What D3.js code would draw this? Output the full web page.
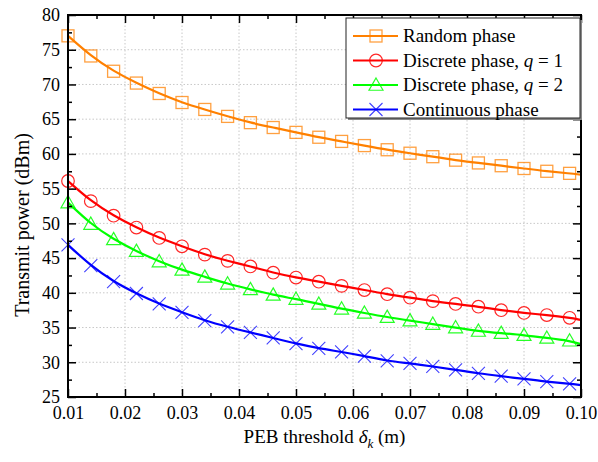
<!DOCTYPE html>
<html><head><meta charset="utf-8">
<script src="https://cdn.jsdelivr.net/npm/d3@7"></script>
<style>
html,body{margin:0;padding:0;background:#fff;}
svg{display:block;font-family:"Liberation Serif","Times New Roman",serif;}
</style></head>
<body><svg id="c" width="598" height="462"></svg>
<script>
// ---- data ----
const markerX = [0.010,0.014,0.018,0.022,0.026,0.030,0.034,0.038,0.042,0.046,0.050,0.054,0.058,0.062,0.066,0.070,0.074,0.078,0.082,0.086,0.090,0.094,0.098];
const endX = 0.10;
const randomPhase = [77.0,74.1,71.9,70.2,68.7,67.4,66.4,65.4,64.5,63.8,63.1,62.4,61.8,61.2,60.6,60.1,59.6,59.1,58.7,58.3,57.9,57.5,57.2];
const randomEnd = 57.0;
const discreteQ1 = [56.1,53.2,51.1,49.4,47.9,46.7,45.5,44.6,43.8,42.9,42.2,41.6,41.0,40.4,39.8,39.3,38.8,38.4,38.0,37.5,37.1,36.8,36.4];
const discreteQ1End = 36.1;
const discreteQ2 = [53.0,49.9,47.7,46.0,44.5,43.3,42.3,41.3,40.5,39.7,39.1,38.4,37.7,37.1,36.5,36.0,35.5,35.0,34.5,34.2,33.9,33.5,33.1];
const discreteQ2End = 32.6;
const continuous = [46.9,43.9,41.6,39.9,38.4,37.2,36.0,35.1,34.3,33.5,32.7,32.0,31.5,30.9,30.2,29.85,29.4,28.9,28.4,28.0,27.6,27.2,26.9];
const continuousEnd = 26.7;
const xTicks = [0.01,0.02,0.03,0.04,0.05,0.06,0.07,0.08,0.09,0.10];
const xMinor = [0.015,0.025,0.035,0.045,0.055,0.065,0.075,0.085,0.095];
const yTicks = [25,30,35,40,45,50,55,60,65,70,75,80];
const yMinor = [27.5,32.5,37.5,42.5,47.5,52.5,57.5,62.5,67.5,72.5,77.5];

const seriesList = [
  {name:"Random phase", vals:randomPhase, end:randomEnd, color:"#FF8000", marker:"square"},
  {name:"Discrete phase, ", q:"1", vals:discreteQ1, end:discreteQ1End, color:"#FF0000", marker:"circle"},
  {name:"Discrete phase, ", q:"2", vals:discreteQ2, end:discreteQ2End, color:"#00FF00", marker:"triangle"},
  {name:"Continuous phase", vals:continuous, end:continuousEnd, color:"#0000FF", marker:"cross"}
];

// ---- layout ----
const FONT = "Liberation Serif, Times New Roman, serif";
const L=68, R=581, T=15, B=397;
const svg = d3.select("#c");
const x = d3.scaleLinear().domain([0.01,0.10]).range([L,R]);
const y = d3.scaleLinear().domain([25,80]).range([B,T]);

// grid
const grid = svg.append("g");
grid.selectAll("line.gx").data(xTicks.slice(1,-1)).join("line")
  .attr("x1",d=>x(d)).attr("x2",d=>x(d)).attr("y1",T).attr("y2",B)
  .attr("stroke","#c8c8c8").attr("stroke-width",1).attr("stroke-dasharray","1.5,2");
grid.selectAll("line.gy").data(yTicks.slice(1,-1)).join("line")
  .attr("x1",L).attr("x2",R).attr("y1",d=>y(d)).attr("y2",d=>y(d))
  .attr("stroke","#c8c8c8").attr("stroke-width",1).attr("stroke-dasharray","1.5,2");

// series
const line = d3.line().x(d=>x(d[0])).y(d=>y(d[1])).curve(d3.curveBasis);
function drawMarker(g, type, cx, cy, color){
  const s = 6;
  if(type==="square"){
    g.append("rect").attr("x",cx-s).attr("y",cy-s).attr("width",2*s).attr("height",2*s)
      .attr("fill","none").attr("stroke",color).attr("stroke-width",1.3).attr("stroke-opacity",0.75);
  } else if(type==="circle"){
    g.append("circle").attr("cx",cx).attr("cy",cy).attr("r",s+0.3)
      .attr("fill","none").attr("stroke",color).attr("stroke-width",1.2).attr("stroke-opacity",0.85);
  } else if(type==="triangle"){
    const h=s+1;
    g.append("path").attr("d",`M${cx},${cy-h} L${cx+h},${cy+h*0.75} L${cx-h},${cy+h*0.75} Z`)
      .attr("fill","none").attr("stroke",color).attr("stroke-width",1.2).attr("stroke-opacity",0.85);
  } else {
    const c=s+0.5;
    g.append("path").attr("d",`M${cx-c},${cy-c} L${cx+c},${cy+c} M${cx-c},${cy+c} L${cx+c},${cy-c}`)
      .attr("fill","none").attr("stroke",color).attr("stroke-width",1.1).attr("stroke-opacity",0.75);
  }
}
const sg = svg.append("g");
seriesList.forEach(s=>{
  const pts = markerX.map((xv,i)=>[xv,s.vals[i]]).concat([[endX,s.end]]);
  sg.append("path").datum(pts).attr("d",line).attr("fill","none")
    .attr("stroke",s.color).attr("stroke-width",2.2);
  const mg = sg.append("g");
  markerX.forEach((xv,i)=>drawMarker(mg,s.marker,x(xv),y(s.vals[i]),s.color));
});

// axes
const axisStyle = g=>{ g.select(".domain").remove(); g.selectAll("line").attr("stroke","#000").attr("stroke-width",1.5); };
function addAxis(axisFn, scale, ticks, size, transform, labels, fmt, pad){
  const a = axisFn(scale).tickValues(ticks).tickSize(size).tickPadding(pad||8);
  if(labels) a.tickFormat(fmt); else a.tickFormat("");
  const g = svg.append("g").attr("transform",transform).call(a).call(axisStyle)
    .attr("font-family",FONT).attr("font-size",18);
  g.selectAll("text").attr("font-size",18).attr("fill","#000").attr("font-family",FONT);
  return g;
}
const fx = d=>d3.format(".2f")(d);
addAxis(d3.axisBottom,x,xTicks,-8,`translate(0,${B})`,true,fx,9);
addAxis(d3.axisBottom,x,xMinor,-4,`translate(0,${B})`,false);
addAxis(d3.axisTop,x,xTicks,-8,`translate(0,${T})`,false);
addAxis(d3.axisTop,x,xMinor,-4,`translate(0,${T})`,false);
addAxis(d3.axisLeft,y,yTicks,-8,`translate(${L},0)`,true,d=>d,8);
addAxis(d3.axisLeft,y,yMinor,-4,`translate(${L},0)`,false);
addAxis(d3.axisRight,y,yTicks,-8,`translate(${R},0)`,false);
addAxis(d3.axisRight,y,yMinor,-4,`translate(${R},0)`,false);

// frame
svg.append("rect").attr("x",L).attr("y",T).attr("width",R-L).attr("height",B-T)
  .attr("fill","none").attr("stroke","#000").attr("stroke-width",2);

// axis titles
const xt = svg.append("text").attr("x",(L+R)/2).attr("y",443).attr("text-anchor","middle")
  .attr("font-size",19).attr("fill","#000").attr("font-family",FONT);
xt.append("tspan").text("PEB threshold ");
xt.append("tspan").attr("font-style","italic").text("δ");
xt.append("tspan").attr("font-style","italic").attr("font-size",13).attr("dy",5).text("k");
xt.append("tspan").attr("dy",-5).text(" (m)");
svg.append("text").attr("transform",`translate(29,225) rotate(-90)`).attr("text-anchor","middle")
  .attr("font-size",20).attr("fill","#000").attr("font-family",FONT).text("Transmit power (dBm)");

// legend
const lg = svg.append("g");
const lx=346, ly=18, lw=234, lh=100;
lg.append("rect").attr("x",lx+2).attr("y",ly+2).attr("width",lw).attr("height",lh).attr("fill","#888");
lg.append("rect").attr("x",lx).attr("y",ly).attr("width",lw).attr("height",lh).attr("fill","#fff")
  .attr("stroke","#222").attr("stroke-width",1);
seriesList.forEach((s,i)=>{
  const yy = ly+18+i*24.5;
  lg.append("line").attr("x1",lx+7).attr("x2",lx+52).attr("y1",yy).attr("y2",yy)
    .attr("stroke",s.color).attr("stroke-width",2);
  drawMarker(lg,s.marker,lx+30,yy,s.color);
  const t = lg.append("text").attr("x",lx+57).attr("y",yy+6).attr("font-size",19)
    .attr("fill","#000").attr("font-family",FONT);
  t.append("tspan").text(s.name);
  if(s.q){ t.append("tspan").attr("font-style","italic").text("q"); t.append("tspan").text(" = "+s.q); }
});
</script>
</body></html>
